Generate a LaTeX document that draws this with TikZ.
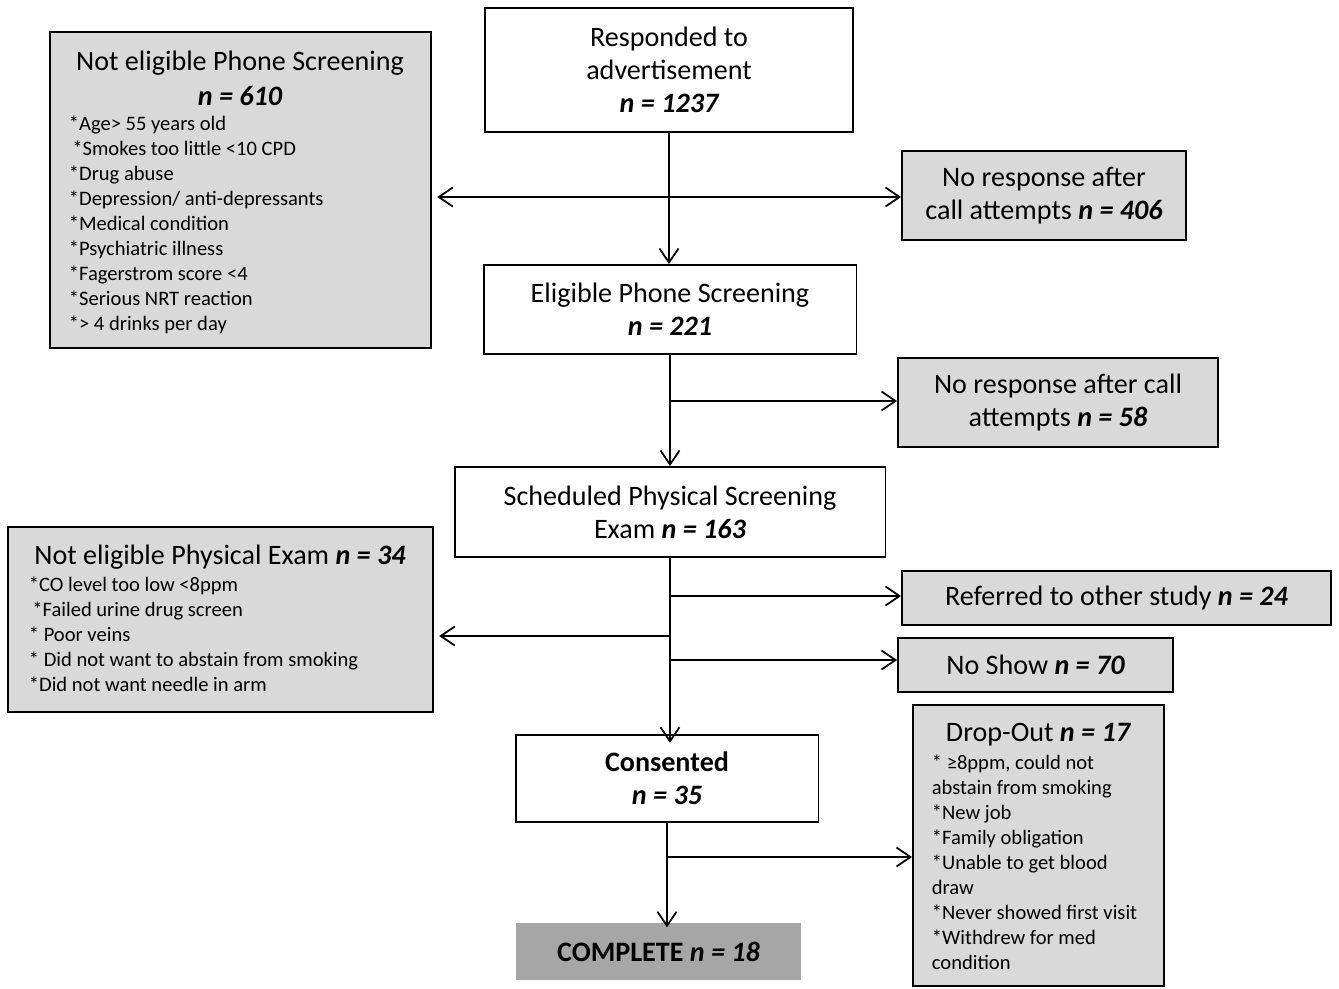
\documentclass[tikz,border=0pt]{standalone}
\usepackage{fontspec}
\setmainfont{Carlito}
\usetikzlibrary{arrows.meta}

\newcommand{\nn}[1]{{\bfseries\itshape n = #1}}

\begin{document}
\begin{tikzpicture}[
    x=0.02cm, y=-0.02cm,
    line width=1pt,
    >={Straight Barb[length=2.8mm,width=3.8mm]},
    box/.style={draw, line width=1.1pt, align=center, inner sep=2pt, font=\fontsize{16}{18.6}\selectfont},
    greybox/.style={box, fill=black!15},
    titletext/.style={align=center, inner sep=0pt, font=\fontsize{16}{19.8}\selectfont},
    listtext/.style={align=left, inner sep=0pt, anchor=north west, font=\fontsize{11.7}{14.2}\selectfont},
    seta/.style={->, shorten >=3pt},
  ]
  \useasboundingbox (0,0) rectangle (1339,988);

  % Caixas principais
  \node[box, minimum width=7.36cm, minimum height=2.48cm] (resp) at (669,70)
    {Responded to\\advertisement\\\nn{1237}};
  \node[box, minimum width=7.46cm, minimum height=1.78cm] (elig) at (670,309.5)
    {Eligible Phone Screening\\\nn{221}};
  \node[box, minimum width=8.62cm, minimum height=1.80cm] (sched) at (670,512)
    {Scheduled Physical Screening\\Exam \nn{163}};
  \node[box, minimum width=6.06cm, minimum height=1.74cm] (consent) at (667,778.5)
    {\textbf{Consented}\\\nn{35}};
  \node[box, draw=none, fill=black!35, minimum width=5.70cm, minimum height=1.14cm] (complete) at (658.5,951.5)
    {\textbf{COMPLETE} \nn{18}};

  % Caixas laterais
  \node[greybox, minimum width=5.68cm, minimum height=1.78cm] (noresp1) at (1044,195.5)
    {No response after\\call attempts \nn{406}};
  \node[greybox, minimum width=6.40cm, minimum height=1.78cm] (noresp2) at (1058,402.5)
    {No response after call\\attempts \nn{58}};
  \node[greybox, minimum width=8.58cm, minimum height=1.08cm] (referred) at (1116.5,598)
    {Referred to other study \nn{24}};
  \node[greybox, minimum width=5.50cm, minimum height=1.08cm] (noshow) at (1035.5,665)
    {No Show \nn{70}};

  \node[greybox, minimum width=7.62cm, minimum height=6.32cm] (phoneno) at (240.5,190) {};
  \node[titletext] (phonenotitle) at (240,78) {Not eligible Phone Screening\\\nn{610}};
  \node[listtext] (phonenolist) at (68,115)
    {*Age> 55 years old\\
     \hspace{2pt}*Smokes too little <10 CPD\\
     *Drug abuse\\
     *Depression/ anti-depressants\\
     *Medical condition\\
     *Psychiatric illness\\
     *Fagerstrom score <4\\
     *Serious NRT reaction\\
     *> 4 drinks per day};

  \node[greybox, minimum width=8.50cm, minimum height=3.70cm] (physno) at (220.5,619.5) {};
  \node[titletext] (physnotitle) at (220,557) {Not eligible Physical Exam \nn{34}};
  \node[listtext] (physnolist) at (28,576)
    {*CO level too low <8ppm\\
     \hspace{2pt}*Failed urine drug screen\\
     * Poor veins\\
     * Did not want to abstain from smoking\\
     *Did not want needle in arm};

  \node[greybox, minimum width=5.02cm, minimum height=5.62cm] (dropout) at (1038.5,845.5) {};
  \node[titletext] (dropouttitle) at (1038,735) {Drop-Out \nn{17}};
  \node[listtext] (dropoutlist) at (931,754)
    {* ≥8ppm, could not\\
     abstain from smoking\\
     *New job\\
     *Family obligation\\
     *Unable to get blood\\
     draw\\
     *Never showed first visit\\
     *Withdrew for med\\
     condition};

  % Ramificacoes
  \coordinate (br1) at (669,197);
  \coordinate (br2) at (670,401);
  \coordinate (br3) at (670,596);
  \coordinate (br4) at (670,636);
  \coordinate (br5) at (670,660);
  \coordinate (br6) at (667,857);

  % Fluxo principal
  \draw[->] (resp.south) -- (resp.south |- elig.north);
  \draw[->] (elig.south) -- (elig.south |- sched.north);
  \draw[->] (sched.south) -- ([yshift=-5pt]sched.south |- consent.north);
  \draw[->] (consent.south) -- ([yshift=-3pt]consent.south |- complete.north);

  \draw[seta] (br1) -- (br1 -| phoneno.east);
  \draw[->] (br1) -- (br1 -| noresp1.west);
  \draw[->] (br2) -- (br2 -| noresp2.west);
  \draw[->] (br3) -- (br3 -| referred.west);
  \draw[seta] (br4) -- (br4 -| physno.east);
  \draw[->] (br5) -- (br5 -| noshow.west);
  \draw[->] (br6) -- (br6 -| dropout.west);
\end{tikzpicture}
\end{document}
